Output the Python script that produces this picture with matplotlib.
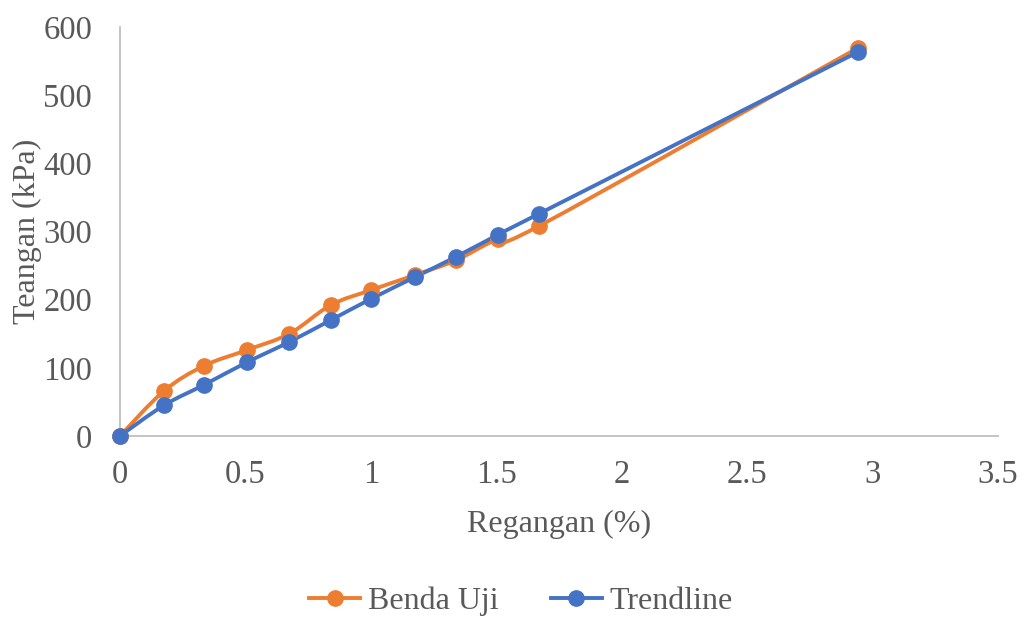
import numpy as np
import matplotlib
matplotlib.use("Agg")
import matplotlib.pyplot as plt
from matplotlib.path import Path
from matplotlib.patches import PathPatch
from matplotlib.lines import Line2D

# strain (%) and stress (kPa)
regangan = [0, 0.175, 0.335, 0.505, 0.675, 0.84, 1.00, 1.175, 1.34, 1.505, 1.67, 2.94]
benda_uji = [0, 66, 103, 126, 150, 192, 214, 236, 258, 289, 308, 569]
trendline = [0, 45, 75, 108, 138, 170, 201, 233, 263, 295, 326, 563]

ORANGE = "#ED7D31"
BLUE = "#4472C4"
GREY = "#595959"
FS = 23
LW = 2.8
MS = 11

plt.rcParams["font.family"] = ["Liberation Serif", "DejaVu Serif"]


def smooth_path(xs, ys, tension=1 / 6):
    # cubic bezier through each point, control points from neighbours
    pts = np.column_stack([np.asarray(xs, float), np.asarray(ys, float)])
    verts = [pts[0]]
    codes = [Path.MOVETO]
    n = len(pts)
    for i in range(n - 1):
        p0 = pts[i - 1] if i > 0 else pts[i]
        p1 = pts[i]
        p2 = pts[i + 1]
        p3 = pts[i + 2] if i + 2 < n else pts[i + 1]
        verts += [p1 + (p2 - p0) * tension, p2 - (p3 - p1) * tension, p2]
        codes += [Path.CURVE4] * 3
    return Path(verts, codes)


fig = plt.figure(figsize=(10.26, 6.19), dpi=100)
ax = fig.add_axes([120 / 1026, 1 - 436 / 619, 878 / 1026, 409 / 619])

for ys, col in [(benda_uji, ORANGE), (trendline, BLUE)]:
    ax.add_patch(PathPatch(smooth_path(regangan, ys), fill=False, edgecolor=col,
                           lw=LW, capstyle="round", joinstyle="round", zorder=2,
                           clip_on=False))
    ax.plot(regangan, ys, ls="none", color=col, marker="o", ms=MS, zorder=3,
            clip_on=False)

ax.set_xlim(0, 3.5)
ax.set_ylim(0, 600)
ax.set_xticks(np.arange(0, 3.51, 0.5))
ax.set_xticklabels(["0", "0.5", "1", "1.5", "2", "2.5", "3", "3.5"])
ax.set_yticks(range(0, 601, 100))

for s in ["top", "right"]:
    ax.spines[s].set_visible(False)
for s in ["left", "bottom"]:
    ax.spines[s].set_color("#BFBFBF")
    ax.spines[s].set_linewidth(1.3)
    ax.spines[s].set_zorder(1)
ax.tick_params(length=0, labelsize=23.5, labelcolor=GREY)
ax.tick_params(axis="x", pad=17)
ax.tick_params(axis="y", pad=20)

ax.set_xlabel("Regangan (%)", fontsize=FS, color=GREY, labelpad=14)
ax.set_ylabel("Teangan (kPa)", fontsize=FS, color=GREY, labelpad=1)

handles = [Line2D([], [], color=ORANGE, lw=LW, marker="o", ms=MS),
           Line2D([], [], color=BLUE, lw=LW, marker="o", ms=MS)]
fig.legend(handles, ["Benda Uji", "Trendline"], loc="center", bbox_to_anchor=(0.508, 0.028),
           ncol=2, frameon=False, fontsize=FS, labelcolor=GREY, handlelength=1.6,
           handletextpad=0.25, columnspacing=1.62)

fig.savefig("out.png", dpi=100)
